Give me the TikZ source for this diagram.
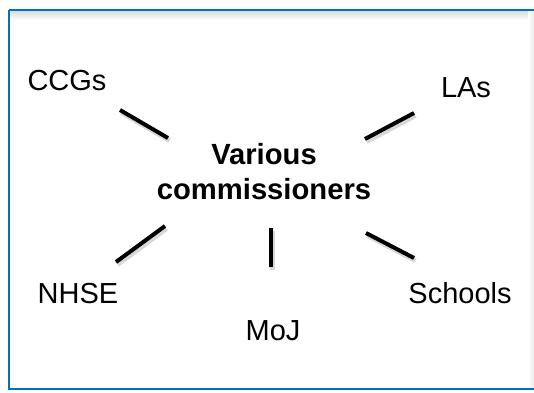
\documentclass[tikz,border=0pt]{standalone}
\usepackage{fontspec}
\setmainfont{Liberation Sans}
\definecolor{frameblue}{RGB}{0,112,192}
\tikzset{
  lbl/.style={font=\fontsize{29}{34}\selectfont, inner sep=0pt, anchor=base},
  hub/.style={font=\bfseries\fontsize{29.2}{35}\selectfont, align=center, inner sep=0pt},
  spoke/.style={line width=4pt, black},
  spokeshadow/.style={line width=5pt, black!25, opacity=0.6},
}
\begin{document}
\begin{tikzpicture}[x=1pt,y=-1pt]
\useasboundingbox (0,0) rectangle (534,392);
\fill[white] (0,0) rectangle (534,392);
% frame shadow
\shade[top color=black!14, bottom color=white] (10,11) rectangle (534,20);
\shade[left color=white, right color=black!8] (528,11) rectangle (534,388);
\draw[frameblue, line width=2pt] (9,10) -- (540,10) (9,10) -- (9,389) -- (540,389);
% text nodes
\node[lbl] (ccg) at (67,90) {CCGs};
\node[lbl] (las) at (466,97) {LAs};
\node[lbl] (nhse) at (78,303) {NHSE};
\node[lbl] (sch) at (460,303) {Schools};
\node[lbl] (moj) at (273,340) {MoJ};
\node[hub] (hub) at (264,172) {Various\\commissioners};
% spoke ends
\coordinate (c1) at (120,110); \coordinate (c2) at (168,138);
\coordinate (l1) at (365,139); \coordinate (l2) at (414,113);
\coordinate (n1) at (165,226); \coordinate (n2) at (116,262);
\coordinate (m1) at (271,228); \coordinate (m2) at (271,267);
\coordinate (s1) at (366,233); \coordinate (s2) at (414,258);
% shadows
\foreach \a/\b in {c1/c2,l1/l2,n1/n2,m1/m2,s1/s2}
  \draw[spokeshadow] ([shift={(1.5,2.5)}]\a) -- ([shift={(1.5,2.5)}]\b);
% spokes
\foreach \a/\b in {c1/c2,l1/l2,n1/n2,m1/m2,s1/s2}
  \draw[spoke] (\a) -- (\b);
\end{tikzpicture}
\end{document}
